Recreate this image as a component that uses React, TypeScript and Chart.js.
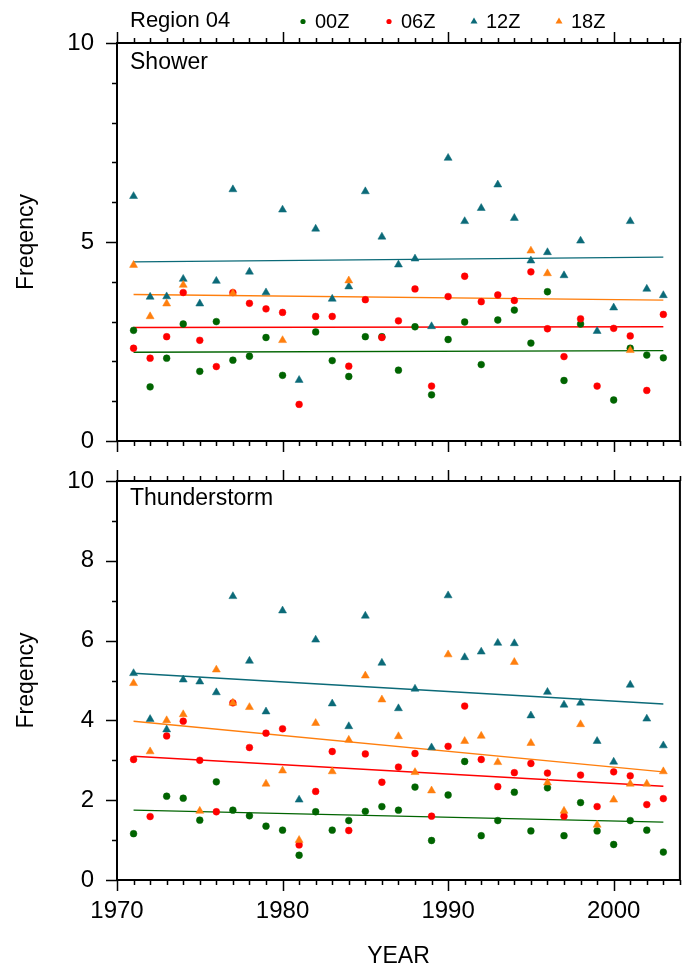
import React, { useEffect, useRef } from 'react';
import { Chart, registerables } from 'chart.js';

Chart.register(...registerables);

// ---------------- data ----------------
const YEARS = [
  1971, 1972, 1973, 1974, 1975, 1976, 1977, 1978, 1979, 1980, 1981,
  1982, 1983, 1984, 1985, 1986, 1987, 1988, 1989, 1990, 1991, 1992,
  1993, 1994, 1995, 1996, 1997, 1998, 1999, 2000, 2001, 2002, 2003,
];

const SHOWER_00Z = [
  2.78, 1.36, 2.08, 2.94, 1.75, 3.0, 2.03, 2.13, 2.6, 1.65, null,
  2.74, 2.02, 1.62, 2.62, 2.62, 1.78, 2.87, 1.16, 2.55, 2.99, 1.92,
  3.04, 3.29, 2.46, 3.75, 1.52, 2.94, null, 1.03, 2.33, 2.16, 2.09,
];
const SHOWER_06Z = [
  2.33, 2.08, 2.62, 3.73, 2.53, 1.87, 3.73, 3.46, 3.32, 3.23, 0.92,
  3.13, 3.13, 1.88, 3.55, 2.6, 3.02, 3.82, 1.38, 3.63, 4.14, 3.5,
  3.67, 3.53, 4.25, 2.82, 2.12, 3.07, 1.38, 2.83, 2.64, 1.27, 3.18,
];
const SHOWER_12Z = [
  6.15, 3.62, 3.63, 4.07, 3.45, 4.02, 6.32, 4.25, 3.73, 5.81, 1.53,
  5.33, 3.57, 3.88, 6.27, 5.13, 4.43, 4.58, 2.88, 7.11, 5.52, 5.85,
  6.44, 5.6, 4.53, 4.74, 4.16, 5.03, 2.76, 3.35, 5.52, 3.82, 3.66,
];
const SHOWER_18Z = [
  4.42, 3.13, 3.45, 3.92, null, null, 3.71, null, null, 2.53, null,
  null, null, 4.03, null, null, null, null, null, null, null, null,
  null, null, 4.78, 4.21, null, null, null, null, 2.28, null, null,
];

const THUNDER_00Z = [
  1.16, null, 2.1, 2.05, 1.5, 2.46, 1.75, 1.61, 1.35, 1.25, 0.62,
  1.71, 1.25, 1.49, 1.72, 1.84, 1.75, 2.33, 0.99, 2.13, 2.97, 1.11,
  1.49, 2.2, 1.23, 2.31, 1.11, 1.94, 1.23, 0.89, 1.49, 1.25, 0.7,
];
const THUNDER_06Z = [
  3.02, 1.59, 3.61, 3.98, 3.0, 1.71, 4.44, 3.32, 3.68, 3.79, 0.88,
  2.22, 3.22, 1.24, 3.16, 2.45, 2.83, 3.17, 1.6, 3.35, 4.36, 3.02,
  2.34, 2.69, 2.92, 2.68, 1.6, 2.63, 1.84, 2.71, 2.61, 1.89, 2.04,
];
const THUNDER_12Z = [
  5.18, 4.03, 3.77, 5.02, 4.97, 4.7, 7.11, 5.49, 4.22, 6.75, 2.01,
  6.02, 4.42, 3.85, 6.62, 5.44, 4.3, 4.79, 3.32, 7.13, 5.58, 5.72,
  5.94, 5.93, 4.12, 4.71, 4.39, 4.44, 3.48, 2.96, 4.89, 4.04, 3.37,
];
const THUNDER_18Z = [
  4.93, 3.22, 4.0, 4.15, 1.73, 5.27, 4.44, 4.33, 2.41, 2.74, 1.0,
  3.93, 2.72, 3.51, 5.12, 4.52, 3.6, 2.7, 2.24, 5.65, 3.48, 3.61,
  2.95, 5.46, 3.43, 2.44, 1.73, 3.9, 1.38, 2.01, 2.41, 2.41, 2.72,
];

// trend lines: values at first and last year
const TREND_YEARS = [1971, 2003];
const SHOWER_TREND_00Z = [2.23, 2.27];
const SHOWER_TREND_06Z = [2.85, 2.87];
const SHOWER_TREND_12Z = [4.5, 4.62];
const SHOWER_TREND_18Z = [3.68, 3.54];
const THUNDER_TREND_00Z = [1.75, 1.45];
const THUNDER_TREND_06Z = [3.1, 2.35];
const THUNDER_TREND_12Z = [5.18, 4.41];
const THUNDER_TREND_18Z = [3.98, 2.71];

const SERIES_NAMES = ['00Z', '06Z', '12Z', '18Z'];
const SERIES_COLORS = ['#006400', '#ff0000', '#0b6a78', '#ff7f0e'];
const SERIES_SHAPES = ['circle', 'circle', 'triangle', 'triangle'];

const X_TICKS = [1970, 1980, 1990, 2000];
const SHOWER_Y_TICKS = [0, 5, 10];
const THUNDER_Y_TICKS = [0, 2, 4, 6, 8, 10];

const REGION_LABEL = 'Region 04';
const X_TITLE = 'YEAR';
const Y_TITLE = 'Freqency';

const FONT = '"Liberation Sans", Arial, Helvetica, sans-serif';

// ---------------- chart helpers ----------------
const panelPlugin = {
  id: 'panelDecor',
  afterDatasetsDraw(chart: any, _args: any, opts: any) {
    const { ctx, chartArea: a, scales } = chart;
    const xs = scales.x;
    const ys = scales.y;
    ctx.save();
    ctx.strokeStyle = '#000';
    ctx.lineWidth = 2;
    ctx.strokeRect(a.left, a.top, a.right - a.left, a.bottom - a.top);
    ctx.lineWidth = 1.5;
    ctx.beginPath();
    for (let yr = xs.min; yr <= xs.max; yr++) {
      const px = Math.round(xs.getPixelForValue(yr)) + 0.5;
      const len = X_TICKS.includes(yr) ? 11 : 5;
      ctx.moveTo(px, a.top);
      ctx.lineTo(px, a.top - len);
      ctx.moveTo(px, a.bottom);
      ctx.lineTo(px, a.bottom + len);
    }
    for (let v = ys.min; v <= ys.max; v++) {
      const py = Math.round(ys.getPixelForValue(v)) + 0.5;
      const len = opts.yTicks.includes(v) ? 11 : 5;
      ctx.moveTo(a.left, py);
      ctx.lineTo(a.left - len, py);
    }
    ctx.stroke();

    ctx.fillStyle = '#000';
    ctx.textAlign = 'left';
    ctx.textBaseline = 'middle';
    ctx.font = `23px ${FONT}`;
    ctx.fillText(opts.title, a.left + 13, a.top + opts.titleDy);

    if (opts.legend) {
      ctx.font = `22px ${FONT}`;
      ctx.fillText(REGION_LABEL, 130, 21);
      const mx = [303, 389, 474, 559];
      ctx.font = `20px ${FONT}`;
      SERIES_NAMES.forEach((name, i) => {
        ctx.fillStyle = SERIES_COLORS[i];
        ctx.beginPath();
        if (SERIES_SHAPES[i] === 'circle') {
          ctx.arc(mx[i], 21.5, 2.6, 0, Math.PI * 2);
        } else {
          ctx.moveTo(mx[i], 17.5);
          ctx.lineTo(mx[i] + 3.5, 23.5);
          ctx.lineTo(mx[i] - 3.5, 23.5);
          ctx.closePath();
        }
        ctx.fill();
        ctx.fillStyle = '#000';
        ctx.fillText(name, mx[i] + 12, 22);
      });
    }
    ctx.restore();
  },
};

function makePanel(
  canvas: HTMLCanvasElement,
  cfg: {
    points: (number | null)[][];
    trends: number[][];
    yTicks: number[];
    title: string;
    titleDy: number;
    legend: boolean;
    showX: boolean;
    padTop: number;
    xHeight: number;
  }
) {
  const datasets: any[] = [];
  cfg.points.forEach((vals, i) => {
    datasets.push({
      type: 'scatter',
      label: SERIES_NAMES[i],
      data: YEARS.map((yr, k) => ({ x: yr, y: vals[k] })).filter((p) => p.y !== null),
      pointStyle: SERIES_SHAPES[i],
      pointRadius: SERIES_SHAPES[i] === 'circle' ? 3.4 : 4.6,
      pointBackgroundColor: SERIES_COLORS[i],
      pointBorderColor: SERIES_COLORS[i],
      pointBorderWidth: 0.5,
      showLine: false,
      order: 4 - i,
    });
  });
  cfg.trends.forEach((vals, i) => {
    datasets.push({
      type: 'line',
      label: SERIES_NAMES[i] + ' trend',
      data: TREND_YEARS.map((yr, k) => ({ x: yr, y: vals[k] })),
      borderColor: SERIES_COLORS[i],
      borderWidth: 1.4,
      pointRadius: 0,
      fill: false,
      tension: 0,
      order: 10 - i,
    });
  });

  const tickFont = { family: FONT, size: 24, lineHeight: 1.2 };
  return new Chart(canvas, {
    type: 'scatter',
    data: { datasets },
    plugins: [panelPlugin],
    options: {
      responsive: false,
      maintainAspectRatio: false,
      animation: false,
      events: [],
      layout: { padding: { top: cfg.padTop, right: 2, left: 0, bottom: 0 } },
      plugins: {
        legend: { display: false },
        tooltip: { enabled: false },
        title: { display: false },
        panelDecor: {
          yTicks: cfg.yTicks,
          title: cfg.title,
          titleDy: cfg.titleDy,
          legend: cfg.legend,
        },
      } as any,
      scales: {
        x: {
          type: 'linear',
          position: 'bottom',
          min: 1970,
          max: 2004,
          afterFit: (s: any) => {
            s.height = cfg.xHeight;
          },
          grid: { display: false, drawTicks: false },
          border: { display: false },
          ticks: {
            display: cfg.showX,
            stepSize: 10,
            includeBounds: false,
            autoSkip: false,
            maxRotation: 0,
            padding: 17,
            color: '#000',
            font: tickFont,
            callback: (v: any) => (X_TICKS.includes(v) ? String(v) : ''),
          },
          title: {
            display: cfg.showX,
            text: X_TITLE,
            color: '#000',
            font: { family: FONT, size: 23, lineHeight: 1 },
            padding: { top: 0, bottom: 1 },
          },
        },
        y: {
          type: 'linear',
          min: 0,
          max: 10,
          afterFit: (s: any) => {
            s.width = 117;
          },
          grid: { display: false, drawTicks: false },
          border: { display: false },
          ticks: {
            stepSize: 1,
            autoSkip: false,
            padding: 23,
            color: '#000',
            font: tickFont,
            callback: (v: any) => (cfg.yTicks.includes(v) ? String(v) : ''),
          },
          title: {
            display: true,
            text: Y_TITLE,
            color: '#000',
            font: { family: FONT, size: 23, lineHeight: 1.2 },
            padding: { top: 13, bottom: 0 },
          },
        },
      },
    } as any,
  });
}

export default function App() {
  const topRef = useRef<HTMLCanvasElement>(null);
  const botRef = useRef<HTMLCanvasElement>(null);

  useEffect(() => {
    const top = makePanel(topRef.current!, {
      points: [SHOWER_00Z, SHOWER_06Z, SHOWER_12Z, SHOWER_18Z],
      trends: [SHOWER_TREND_00Z, SHOWER_TREND_06Z, SHOWER_TREND_12Z, SHOWER_TREND_18Z],
      yTicks: SHOWER_Y_TICKS,
      title: 'Shower',
      titleDy: 20,
      legend: true,
      showX: false,
      padTop: 43,
      xHeight: 39,
    });
    const bot = makePanel(botRef.current!, {
      points: [THUNDER_00Z, THUNDER_06Z, THUNDER_12Z, THUNDER_18Z],
      trends: [THUNDER_TREND_00Z, THUNDER_TREND_06Z, THUNDER_TREND_12Z, THUNDER_TREND_18Z],
      yTicks: THUNDER_Y_TICKS,
      title: 'Thunderstorm',
      titleDy: 18,
      legend: false,
      showX: true,
      padTop: 43,
      xHeight: 89,
    });
    return () => {
      top.destroy();
      bot.destroy();
    };
  }, []);

  return (
    <div style={{ position: 'absolute', left: 0, top: 0, width: 685, height: 969, background: '#fff' }}>
      <canvas ref={botRef} width={685} height={531} style={{ position: 'absolute', left: 0, top: 438 }} />
      <canvas ref={topRef} width={685} height={480} style={{ position: 'absolute', left: 0, top: 0 }} />
    </div>
  );
}
